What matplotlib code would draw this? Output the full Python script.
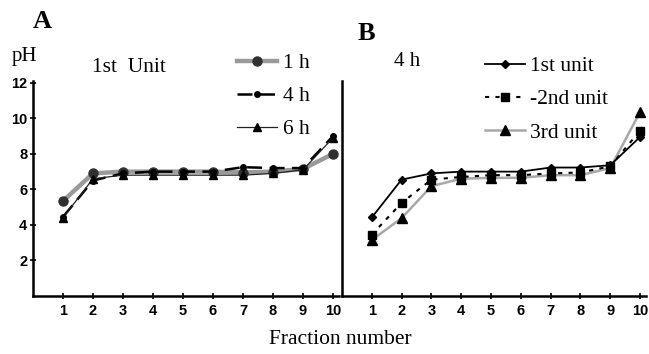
import matplotlib
matplotlib.use("Agg")
import matplotlib.pyplot as plt

fractions = [1, 2, 3, 4, 5, 6, 7, 8, 9, 10]
x_ticks = [1, 2, 3, 4, 5, 6, 7, 8, 9, 10]
y_ticks = [2, 4, 6, 8, 10, 12]

# Panel A: 1st unit at different times
ph_1h = [5.35, 6.9, 7.0, 7.0, 7.0, 7.0, 6.95, 7.0, 7.15, 8.0]
ph_4h = [4.45, 6.5, 6.9, 7.0, 7.0, 7.0, 7.25, 7.2, 7.2, 9.0]
ph_6h = [4.4, 6.6, 6.8, 6.8, 6.8, 6.8, 6.8, 6.9, 7.1, 8.9]

# Panel B: 4 h, different units
ph_u1 = [4.42, 6.55, 6.9, 7.0, 7.0, 7.0, 7.23, 7.23, 7.36, 8.95]
ph_u2 = [3.45, 5.24, 6.55, 6.7, 6.8, 6.8, 6.9, 6.95, 7.3, 9.3]
ph_u3 = [3.15, 4.38, 6.18, 6.6, 6.65, 6.65, 6.8, 6.8, 7.2, 10.35]

W, H = 649, 354
fig = plt.figure(figsize=(W / 100, H / 100), dpi=100)

serif = "Liberation Serif"
sans = "Liberation Sans"

def fx(p):
    return p / W

def fy(p):
    return 1 - p / H

ylo, yhi = 0, 12.1
axA = fig.add_axes([fx(33), fy(296), fx(306), (296 - 81) / H])
axB = fig.add_axes([fx(342), fy(296), fx(304), (296 - 81) / H])

for ax in (axA, axB):
    ax.set_xlim(0, 10.2)
    ax.set_ylim(ylo, yhi)
    for s in ("top", "right"):
        ax.spines[s].set_visible(False)
    for s in ("left", "bottom"):
        ax.spines[s].set_linewidth(1.8)
    ax.set_xticks(x_ticks)
    ax.set_xticklabels([str(v) for v in x_ticks], fontfamily=sans,
                       fontweight="bold", fontsize=10.5)
    ax.tick_params(axis="both", direction="inout", length=4, width=1.2, pad=4)
    ax.patch.set_alpha(0)

axA.set_yticks(y_ticks)
axA.set_yticklabels([str(v) for v in y_ticks], fontfamily=sans,
                    fontweight="bold", fontsize=10.5)
axA.tick_params(axis="y", pad=2)
axB.set_yticks([])

# Panel A lines
axA.plot(fractions, ph_1h, color="#9a9a9a", lw=3.2, marker="o", ms=6.5,
         mfc="#303030", mec="#303030", label="1 h", zorder=2)
axA.plot(fractions, ph_4h, color="black", lw=1.8, ls=(0, (6, 3)), marker="o",
         ms=4, mfc="black", mec="black", label="4 h", zorder=3)
axA.plot(fractions, ph_6h, color="#222222", lw=0.9, marker="^", ms=5.5,
         mfc="black", mec="black", label="6 h", zorder=4)

# Panel B lines
axB.plot(fractions, ph_u1, color="black", lw=1.3, marker="D", ms=4,
         mfc="black", mec="black", label="1st unit", zorder=4)
axB.plot(fractions, ph_u2, color="black", lw=1.5, ls=(0, (2, 3)), marker="s",
         ms=5.5, mfc="black", mec="black", label="-2nd unit", zorder=3)
axB.plot(fractions, ph_u3, color="#a8a8a8", lw=1.8, marker="^", ms=7,
         mfc="black", mec="black", label="3rd unit", zorder=2)

lfs = 15.5
legA = axA.legend(loc="upper left", bbox_to_anchor=(fx(237), fy(53)),
                  bbox_transform=fig.transFigure, frameon=False,
                  prop={"family": serif, "size": lfs}, handlelength=1.85,
                  handletextpad=0.27, labelspacing=0.6, borderaxespad=0,
                  borderpad=0)
legB = axB.legend(loc="upper left", bbox_to_anchor=(fx(485), fy(56)),
                  bbox_transform=fig.transFigure, frameon=False,
                  prop={"family": serif, "size": lfs}, handlelength=1.85,
                  handletextpad=0.22, labelspacing=0.62, borderaxespad=0,
                  borderpad=0)

fig.text(fx(42), fy(22), "A", fontfamily=serif, fontweight="bold",
         fontsize=19, va="center", ha="center")
fig.text(fx(366), fy(33), "B", fontfamily=serif, fontweight="bold",
         fontsize=19, va="center", ha="center")
fig.text(fx(24), fy(56), "pH", fontfamily=serif, fontsize=15,
         va="center", ha="center")
fig.text(fx(129), fy(67), "1st  Unit", fontfamily=serif, fontsize=15.5,
         va="center", ha="center")
fig.text(fx(407), fy(61), "4 h", fontfamily=serif, fontsize=15,
         va="center", ha="center")
fig.text(fx(340), fy(340), "Fraction number", fontfamily=serif, fontsize=15.5,
         va="center", ha="center")

fig.savefig("out.png", dpi=100)
